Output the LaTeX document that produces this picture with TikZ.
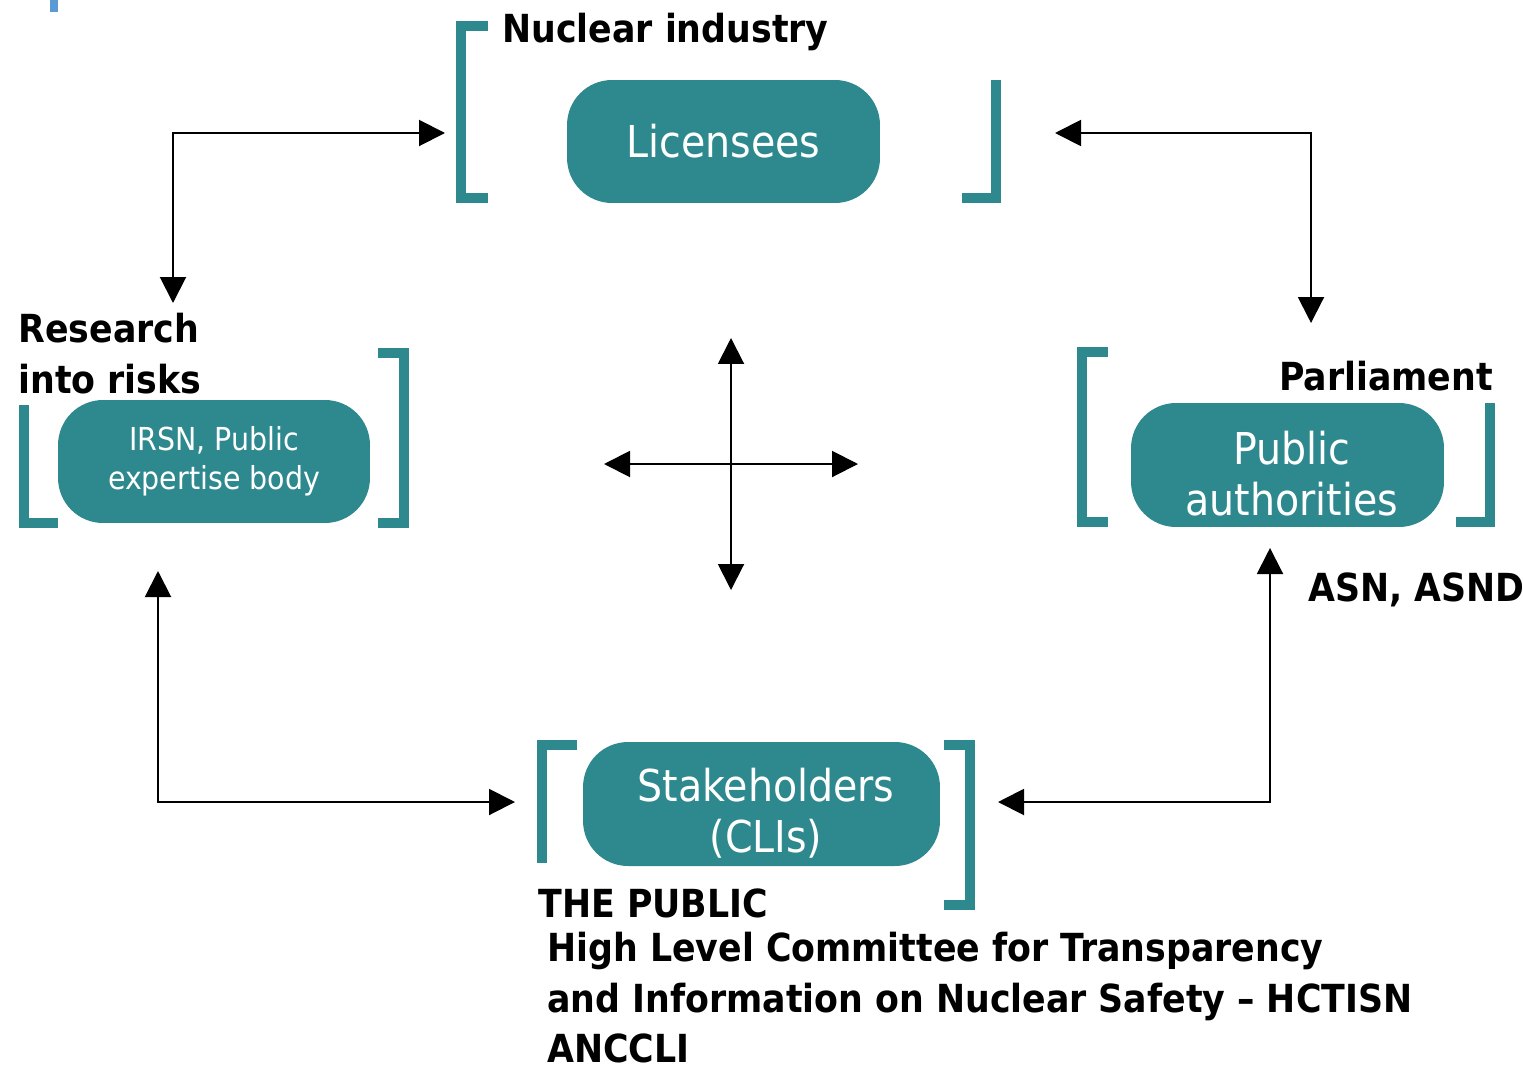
\documentclass[tikz,border=0pt]{standalone}
\usepackage{fontspec}
\setmainfont{DejaVu Sans Condensed}
\usetikzlibrary{arrows.meta}
\definecolor{tealbox}{RGB}{46,137,143}
\definecolor{markblue}{RGB}{91,155,213}
\tikzset{
	box/.style={fill=tealbox, rounded corners=0.9cm, text=white, inner sep=0pt, align=center},
	boxtxt/.style={text=white, inner sep=0pt, align=center},
	bigtxt/.style={font=\fontsize{25}{29}\selectfont},
	brk/.style={draw=tealbox, line width=0.2cm},
	arr/.style={line width=0.04cm, {Triangle[length=0.52cm,width=0.52cm]}-{Triangle[length=0.52cm,width=0.52cm]}},
	lbl/.style={font=\fontsize{22}{28.7}\selectfont\bfseries, inner sep=0pt},
}
\begin{document}
\begin{tikzpicture}[x=0.02cm, y=-0.02cm]
			\useasboundingbox (0,0) rectangle (1523,1068);
			\fill[markblue](50,0) rectangle (58,12);
			% boxes
			\node[box, bigtxt, minimum width=6.26cm, minimum height=2.46cm] (lic) at(723.5,141.5){Licensees};
			\node[box, font=\fontsize{18}{22}\selectfont, minimum width=6.24cm, minimum height=2.46cm] (irsn) at(214,461.5){IRSN, Public\\expertise body};
			\node[box, minimum width=6.26cm, minimum height=2.48cm] (pub) at(1287.5,465){};
			\node[boxtxt, bigtxt] (pubtxt) at(1292,474){Public\\authorities};
			\node[box, minimum width=7.14cm, minimum height=2.48cm] (stake) at(761.5,804){};
			\node[boxtxt, bigtxt] (staketxt) at(766,813){Stakeholders\\(CLIs)};
			% brackets
			\draw[brk](488,26)--(461,26)--(461,198)--(488,198);
			\draw[brk](996,80)--(996,198)--(962,198);
			\draw[brk](24,405)--(24,523)--(58,523);
			\draw[brk](378,353)--(404,353)--(404,523)--(378,523);
			\draw[brk](1108,352)--(1082,352)--(1082,522)--(1108,522);
			\draw[brk](1490,403)--(1490,522)--(1456,522);
			\draw[brk](577,745)--(542,745)--(542,863);
			\draw[brk](944,745)--(970,745)--(970,905)--(944,905);
			% labels
			\node[lbl, anchor=base west] (nuc) at(502,43){Nuclear industry};
			\node[lbl, anchor=north west, align=left] (res) at(18,313){Research\\into risks};
			\node[lbl, anchor=base east] (parl) at(1493,390){Parliament};
			\node[lbl, anchor=base west] (asn) at(1308,601){ASN, ASND};
			\node[lbl, anchor=base west] (thepub) at(538,917){THE PUBLIC};
			\node[lbl, anchor=north west, align=left] (hct) at(547,932){High Level Committee for Transparency\\and Information on Nuclear Safety – HCTISN\\ANCCLI};
			% connectors
			\coordinate (a1) at(173,303);
			\coordinate (a2) at(445,133);
			\coordinate (b1) at(1055,133);
			\coordinate (b2) at(1311,323);
			\coordinate (c1) at(158,571);
			\coordinate (c2) at(515,802);
			\coordinate (d1) at(1270,548);
			\coordinate (d2) at(998,802);
			\draw[arr](a1)|-(a2);
			\draw[arr](b1)-|(b2);
			\draw[arr](c1)|-(c2);
			\draw[arr](d1)|-(d2);
			% cross
			\coordinate (ctr) at(731,464);
			\draw[arr](731,338)--(731,590);
			\draw[arr](604,464)--(858,464);
\end{tikzpicture}
\end{document}
